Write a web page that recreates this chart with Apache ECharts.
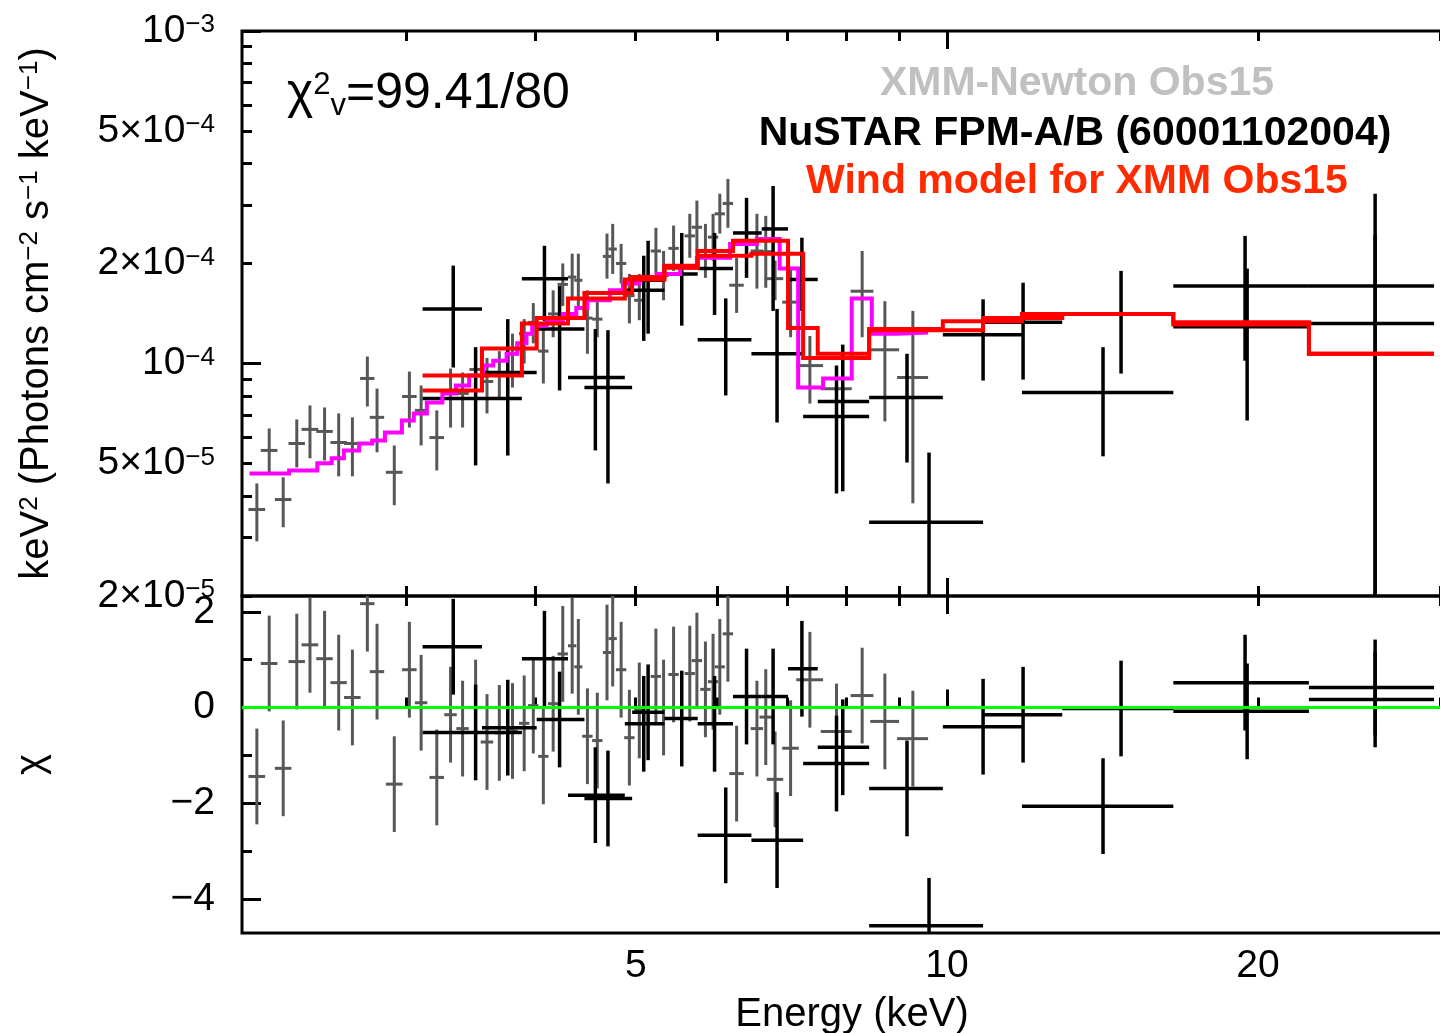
<!DOCTYPE html>
<html>
<head>
<meta charset="utf-8">
<title>XMM-Newton / NuSTAR spectrum</title>
<script src="https://cdn.jsdelivr.net/npm/echarts@6/dist/echarts.min.js"></script>
<style>
  html, body { margin: 0; padding: 0; background: #fff; }
  #chart { width: 1440px; height: 1033px; }
</style>
</head>
<body>
<div id="chart"></div>
<script>
// 字体 / 单位
const FONT = '"Liberation Sans", Arial, Helvetica, sans-serif';
const U = 1e-5; // flux arrays are in units of 1e-5

// 轴范围
const X_MIN = 2.08, X_MAX = 30.13;
const F_MIN = 2e-5, F_MAX = 1e-3;
const CHI_MIN = -4.71, CHI_MAX = 2.33;

// 刻度
const energyTicksMinor = [3, 4, 5, 6, 7, 8, 9, 20, 30];
const energyTicksMajor = [10];
const energyLabels = [5, 10, 20];
const fluxTicksMinor = [2e-5, 3e-5, 4e-5, 5e-5, 6e-5, 7e-5, 8e-5, 9e-5, 2e-4, 3e-4, 4e-4, 5e-4, 6e-4, 7e-4, 8e-4, 9e-4];
const fluxTicksMajor = [1e-4, 1e-3];
const fluxLabels = [2e-5, 5e-5, 1e-4, 2e-4, 5e-4, 1e-3];
const chiTicksMinor = [-3, -1, 1];
const chiTicksMajor = [-4, -2, 0, 2];
const chiLabels = [-4, -2, 0, 2];

// XMM-Newton Obs15 (grey)
const xmmE = [2.15, 2.21, 2.28, 2.35, 2.42, 2.50, 2.58, 2.66, 2.75, 2.81, 2.92, 3.02, 3.10, 3.21, 3.31, 3.40, 3.50, 3.59, 3.69, 3.80, 3.90, 3.98, 4.07, 4.16, 4.25, 4.34, 4.40, 4.49, 4.59, 4.69, 4.75, 4.84, 4.93, 5.04, 5.23, 5.32, 5.44, 5.64, 5.73, 5.84, 5.94, 6.03, 6.14, 6.26, 6.55, 6.68, 6.82, 7.06, 7.37, 7.82, 8.28, 8.71, 9.27];
const xmmDE = [0.040, 0.041, 0.042, 0.043, 0.045, 0.046, 0.047, 0.049, 0.044, 0.045, 0.054, 0.049, 0.043, 0.052, 0.046, 0.047, 0.048, 0.050, 0.042, 0.044, 0.045, 0.046, 0.047, 0.048, 0.049, 0.040, 0.040, 0.052, 0.053, 0.043, 0.044, 0.056, 0.057, 0.058, 0.060, 0.061, 0.063, 0.065, 0.066, 0.067, 0.068, 0.069, 0.071, 0.101, 0.090, 0.092, 0.125, 0.130, 0.220, 0.270, 0.210, 0.280, 0.320];
const xmmF = [3.64, 5.48, 3.90, 5.75, 6.34, 6.25, 5.79, 5.75, 9.02, 6.89, 4.71, 7.96, 7.23, 5.99, 8.2, 8.13, 9.6, 8.83, 9.40, 10.7, 12.3, 13.3, 10.9, 14.1, 17.3, 18.2, 17.8, 13.7, 13.6, 21.0, 22.1, 20.0, 16.0, 15.5, 21.8, 18.4, 22.2, 24.2, 25.7, 21.8, 24.0, 28.2, 30.3, 17.2, 21.8, 21.7, 18.0, 15.3, 9.86, 8.4, 16.5, 11.0, 9.08];
const xmmFlo = [2.92, 4.71, 3.22, 4.87, 5.19, 5.11, 4.58, 4.58, 7.43, 5.41, 3.75, 6.42, 5.67, 4.77, 6.42, 6.42, 8.2, 7.08, 7.91, 8.47, 10.0, 11.5, 8.71, 12.0, 14.9, 15.5, 14.7, 10.7, 12.0, 18.0, 18.6, 17.4, 13.2, 13.5, 18.6, 15.5, 19.0, 20.8, 21.4, 18.1, 20.4, 24.6, 25.6, 14.2, 16.8, 16.9, 15.5, 12.0, 7.58, 7.1, 12.0, 6.70, 3.80];
const xmmFhi = [4.36, 6.38, 4.55, 6.79, 7.48, 7.38, 7.08, 6.89, 10.5, 8.41, 5.67, 9.46, 8.59, 7.23, 9.66, 9.40, 11.0, 10.4, 10.9, 12.3, 13.6, 15.2, 13.3, 16.6, 20.0, 21.4, 21.4, 16.6, 15.5, 24.6, 26.3, 22.9, 18.6, 18.6, 25.6, 21.8, 26.0, 28.2, 30.9, 26.3, 28.2, 32.4, 35.9, 20.8, 28.2, 27.8, 20.4, 19.4, 12.1, 9.7, 21.8, 15.4, 14.4];
const xmmChi = [-1.44, 0.92, -1.27, 0.96, 1.31, 1.02, 0.52, 0.21, 2.17, 0.75, -1.6, 0.79, 0.1, -1.46, -0.15, -0.44, 0.0, -0.72, -0.53, -0.49, -0.33, 0.04, -1.02, 0.08, 1.12, 1.29, 0.85, -0.6, -0.69, 1.15, 1.44, 0.79, -0.63, -0.06, 0.65, 0.0, 0.69, 0.71, 0.98, 0.38, 0.54, 0.85, 1.54, -1.38, -0.44, -0.2, -1.5, -0.85, 0.58, -0.5, 0.25, -0.29, -0.65];

// NuSTAR FPM-A
const faE = [3.33, 3.76, 4.22, 4.70, 5.14, 5.54, 5.96, 6.40, 6.79, 7.24, 7.93, 9.15, 10.84, 14.16, 19.43, 25.96];
const faLo = [3.11, 3.55, 4.01, 4.46, 4.96, 5.33, 5.74, 6.21, 6.62, 7.02, 7.50, 8.41, 9.91, 11.82, 16.56, 22.4];
const faHi = [3.55, 4.01, 4.46, 4.96, 5.33, 5.74, 6.21, 6.62, 7.02, 7.50, 8.41, 9.91, 11.82, 16.56, 22.4, 29.6];
const faF = [14.6, 9.40, 12.7, 8.47, 17.8, 18.6, 19.3, 24.7, 25.4, 17.9, 7.69, 7.91, 12.2, 8.18, 17.1, 17.1];
const faFlo = [9.73, 5.29, 8.30, 4.36, 12.3, 13.0, 14.0, 18.1, 14.4, 14.4, 4.13, 5.04, 8.89, 5.26, 10.2, 1.5];
const faFhi = [19.7, 13.6, 17.1, 12.6, 23.4, 24.7, 24.7, 31.5, 34.2, 23.9, 11.4, 10.7, 15.6, 11.2, 24.2, 32.4];
const faChi = [1.27, -0.42, -0.25, -1.9, -0.1, -0.23, -0.34, 0.23, 0.23, 0.81, -0.83, -1.69, -0.4, -2.06, 0.52, 0.42];

// NuSTAR FPM-B
const fbE = [3.50, 4.08, 4.57, 5.09, 6.11, 6.85, 7.82, 9.61, 11.85, 14.74, 19.52, 25.96];
const fbLo = [3.11, 3.88, 4.30, 4.88, 5.74, 6.47, 7.26, 8.41, 10.84, 12.93, 16.56, 22.4];
const fbHi = [3.88, 4.30, 4.88, 5.33, 6.47, 7.26, 8.41, 10.84, 12.93, 16.56, 22.4, 29.6];
const fbF = [7.85, 18.0, 9.08, 16.6, 11.8, 10.7, 6.93, 3.33, 13.3, 14.1, 12.9, 13.2];
const fbFlo = [4.94, 13.4, 5.48, 11.7, 8.02, 6.65, 4.07, 1.3, 8.95, 9.33, 6.74, 2.0];
const fbFhi = [11.2, 22.6, 12.7, 21.1, 15.7, 14.6, 9.86, 5.40, 17.5, 19.0, 19.3, 24.4];
const fbChi = [-0.52, 1.02, -1.83, -0.34, -2.67, -2.77, -1.17, -4.56, -0.15, -0.02, -0.08, 0.17];

// 模型 (bin edges + values)
const magEdges = [2.115, 2.31, 2.46, 2.54, 2.61, 2.70, 2.78, 2.86, 2.97, 3.05, 3.14, 3.25, 3.35, 3.45, 3.56, 3.64, 3.75, 3.84, 3.92, 3.97, 4.10, 4.25, 4.38, 4.49, 4.72, 4.86, 5.04, 5.24, 5.52, 5.73, 6.17, 6.55, 6.89, 7.18, 7.59, 8.09, 8.46, 8.97, 9.59];
const magVals = [4.67, 4.77, 5.01, 5.19, 5.48, 5.75, 5.87, 6.20, 6.74, 7.08, 7.64, 8.13, 8.59, 9.20, 9.86, 10.2, 10.7, 11.5, 12.3, 13.0, 13.5, 14.1, 14.7, 15.5, 16.6, 17.4, 18.1, 18.6, 19.4, 20.8, 22.9, 23.7, 19.3, 8.47, 9.02, 15.7, 12.3, 12.4];
const redAEdges = [3.11, 3.55, 4.01, 4.46, 4.96, 5.33, 5.74, 6.21, 6.62, 7.02, 7.50, 8.41, 9.91, 11.82, 16.56, 22.4, 29.6];
const redAVals = [8.30, 11.1, 13.7, 16.3, 18.2, 19.7, 21.8, 23.4, 23.4, 12.8, 10.7, 12.7, 13.4, 14.1, 13.3, 10.7];
const redBEdges = [3.11, 3.88, 4.30, 4.88, 5.33, 5.74, 6.47, 7.26, 8.41, 10.84, 12.93, 16.56, 22.4, 29.6];
const redBVals = [9.20, 13.2, 15.7, 17.9, 19.4, 21.1, 21.4, 10.4, 12.6, 13.7, 14.1, 13.1, 10.7];

// 颜色
const GREY = '#575757';

// keep end values just inside the axis range
const inside = (v, lo, hi) => v <= lo ? v * (1 + 1e-9) : v >= hi ? v * (1 - 1e-9) : v;
const fluxIn = arr => arr.map(v => inside(v, F_MIN, F_MAX));

const tickLine = { color: '#000', width: 3 };
const labelBase = { color: '#000', fontFamily: FONT, fontSize: 39 };

function powLabel(v) {
  const e = Math.floor(Math.log10(v) + 1e-6);
  const m = Math.round(v / Math.pow(10, e));
  const base = m === 1 ? '10' : m + '×10';
  return '{b|' + base + '}{s|−' + (-e) + '}';
}

function xAxisFor(grid, pos, ticks, len, withLabels) {
  const ax = {
    type: 'log', logBase: 10, gridIndex: grid, position: pos,
    min: X_MIN, max: X_MAX,
    axisLine: { show: false },
    splitLine: { show: false },
    axisTick: { show: true, inside: true, length: len, customValues: ticks, lineStyle: tickLine },
    axisLabel: { show: false }
  };
  if (withLabels) {
    ax.axisLabel = Object.assign({
      show: true, customValues: energyLabels, margin: 14,
      formatter: v => String(Math.round(v))
    }, labelBase);
    ax.name = 'Energy (keV)';
    ax.nameLocation = 'middle';
    ax.nameGap = 62;
    ax.nameMoveOverlap = false;
    ax.nameTextStyle = { color: '#000', fontFamily: FONT, fontSize: 40, padding: [0, 0, 0, 20] };
  }
  return ax;
}

function fluxAxis(ticks, len, withLabels) {
  const ax = {
    type: 'log', logBase: 10, gridIndex: 0, position: 'left',
    min: F_MIN, max: F_MAX,
    axisLine: { show: false },
    splitLine: { show: false },
    axisTick: { show: true, inside: true, length: len, customValues: fluxIn(ticks), lineStyle: tickLine },
    axisLabel: { show: false }
  };
  if (withLabels) {
    ax.axisLabel = Object.assign({
      show: true, customValues: fluxIn(fluxLabels), margin: 27,
      formatter: powLabel,
      rich: {
        b: { fontFamily: FONT, fontSize: 39, color: '#000' },
        s: { fontFamily: FONT, fontSize: 26, color: '#000', padding: [0, 0, 12, 0] }
      }
    }, labelBase);
    ax.name = '{a|keV}{s|2}{a| (Photons cm}{s|−2}{a| s}{s|−1}{a| keV}{s|−1}{a|)}';
    ax.nameLocation = 'middle';
    ax.nameRotate = 90;
    ax.nameGap = 185;
    ax.nameMoveOverlap = false;
    ax.nameTextStyle = {
      color: '#000', fontFamily: FONT, fontSize: 40,
      rich: {
        a: { fontFamily: FONT, fontSize: 40, color: '#000' },
        s: { fontFamily: FONT, fontSize: 26, color: '#000', padding: [0, 0, 14, 0] }
      }
    };
  }
  return ax;
}

function chiAxis(ticks, len, withLabels) {
  const ax = {
    type: 'value', gridIndex: 1, position: 'left',
    min: CHI_MIN, max: CHI_MAX,
    axisLine: { show: false },
    splitLine: { show: false },
    axisTick: { show: true, inside: true, length: len, customValues: ticks, lineStyle: tickLine },
    axisLabel: { show: false }
  };
  if (withLabels) {
    ax.axisLabel = Object.assign({
      show: true, customValues: chiLabels, margin: 27,
      formatter: v => (v < 0 ? '−' + Math.abs(v) : String(v))
    }, labelBase);
    ax.name = 'χ';
    ax.nameLocation = 'middle';
    ax.nameRotate = 90;
    ax.nameGap = 190;
    ax.nameMoveOverlap = false;
    ax.nameTextStyle = { color: '#000', fontFamily: FONT, fontSize: 40 };
  }
  return ax;
}

// 误差棒: [E, Elo, Ehi, y, ylo, yhi]
function crossSeries(name, data, xi, yi, color, width) {
  return {
    name, type: 'custom', xAxisIndex: xi, yAxisIndex: yi,
    silent: true, animation: false,
    encode: { x: 0, y: 3 },
    renderItem: function (params, api) {
      const cs = params.coordSys;
      const top = cs.y, bottom = cs.y + cs.height, left = cs.x, right = cs.x + cs.width;
      const clampY = v => Math.max(top, Math.min(bottom, v));
      const clampX = v => Math.max(left, Math.min(right, v));
      const c = api.coord([api.value(0), api.value(3)]);
      const l = api.coord([api.value(1), api.value(3)]);
      const r = api.coord([api.value(2), api.value(3)]);
      const b = api.coord([api.value(0), api.value(4)]);
      const t = api.coord([api.value(0), api.value(5)]);
      const style = { stroke: color, lineWidth: width };
      const children = [];
      if (c[1] >= top && c[1] <= bottom) {
        children.push({ type: 'line', shape: { x1: clampX(l[0]), y1: c[1], x2: clampX(r[0]), y2: c[1] }, style });
      }
      children.push({ type: 'line', shape: { x1: c[0], y1: clampY(b[1]), x2: c[0], y2: clampY(t[1]) }, style });
      return { type: 'group', children };
    },
    data
  };
}

function stepSeries(name, edges, vals, color) {
  const pts = vals.map((v, i) => [edges[i], v * U]);
  pts.push([edges[edges.length - 1], vals[vals.length - 1] * U]);
  return {
    name, type: 'line', xAxisIndex: 0, yAxisIndex: 0,
    step: 'end', data: pts, symbol: 'none', showSymbol: false,
    lineStyle: { color, width: 4, join: 'miter' }, silent: true, animation: false
  };
}

const topXmm = xmmE.map((e, i) => [e, e - xmmDE[i], e + xmmDE[i], xmmF[i] * U, xmmFlo[i] * U, xmmFhi[i] * U]);
const resXmm = xmmE.map((e, i) => [e, e - xmmDE[i], e + xmmDE[i], xmmChi[i], xmmChi[i] - 1, xmmChi[i] + 1]);
const topFa = faE.map((e, i) => [e, faLo[i], faHi[i], faF[i] * U, faFlo[i] * U, faFhi[i] * U]);
const resFa = faE.map((e, i) => [e, faLo[i], faHi[i], faChi[i], faChi[i] - 1, faChi[i] + 1]);
const topFb = fbE.map((e, i) => [e, fbLo[i], fbHi[i], fbF[i] * U, fbFlo[i] * U, fbFhi[i] * U]);
const resFb = fbE.map((e, i) => [e, fbLo[i], fbHi[i], fbChi[i], fbChi[i] - 1, fbChi[i] + 1]);

const chart = echarts.init(document.getElementById('chart'));

const gridStyle = { show: true, borderColor: '#000', borderWidth: 3, backgroundColor: 'transparent', containLabel: false, outerBoundsMode: 'none' };

const option = {
  animation: false,
  backgroundColor: '#fff',
  grid: [
    Object.assign({ left: 242, top: 31, width: 1200, height: 565 }, gridStyle),
    Object.assign({ left: 242, top: 596, width: 1200, height: 337 }, gridStyle)
  ],
  xAxis: [
    xAxisFor(0, 'bottom', energyTicksMinor, 10, false),
    xAxisFor(0, 'bottom', energyTicksMajor, 18, false),
    xAxisFor(0, 'top', energyTicksMinor, 10, false),
    xAxisFor(0, 'top', energyTicksMajor, 18, false),
    xAxisFor(1, 'bottom', energyTicksMinor, 10, false),
    xAxisFor(1, 'bottom', energyTicksMajor, 18, true),
    xAxisFor(1, 'top', energyTicksMinor, 10, false),
    xAxisFor(1, 'top', energyTicksMajor, 18, false)
  ],
  yAxis: [
    fluxAxis(fluxTicksMinor, 10, false),
    fluxAxis(fluxTicksMajor, 19, true),
    chiAxis(chiTicksMinor, 10, false),
    chiAxis(chiTicksMajor, 19, true)
  ],
  graphic: [
    {
      type: 'text', x: 287, y: 94, silent: true,
      style: {
        text: '{c|χ}{p|2}{v|v}{t|=99.41/80}',
        align: 'left', verticalAlign: 'middle', fill: '#000',
        rich: {
          c: { fontFamily: FONT, fontSize: 50, fill: '#000' },
          p: { fontFamily: FONT, fontSize: 31, fill: '#000', padding: [0, 0, 17, 0] },
          v: { fontFamily: FONT, fontSize: 31, fill: '#000', padding: [24, 0, 0, 0] },
          t: { fontFamily: FONT, fontSize: 50, fill: '#000' }
        }
      }
    },
    {
      type: 'text', x: 1077, y: 84, silent: true,
      style: { text: 'XMM-Newton Obs15', fill: '#c0c0c0', fontFamily: FONT, fontWeight: 'bold', fontSize: 41, align: 'center', verticalAlign: 'middle' }
    },
    {
      type: 'text', x: 1075, y: 134, silent: true,
      style: { text: 'NuSTAR FPM-A/B (60001102004)', fill: '#000', fontFamily: FONT, fontWeight: 'bold', fontSize: 41, align: 'center', verticalAlign: 'middle' }
    },
    {
      type: 'text', x: 1077, y: 182, silent: true,
      style: { text: 'Wind model for XMM Obs15', fill: '#ff2a00', fontFamily: FONT, fontWeight: 'bold', fontSize: 41, align: 'center', verticalAlign: 'middle' }
    }
  ],
  series: [
    crossSeries('XMM Obs15', topXmm, 0, 0, GREY, 3),
    crossSeries('FPM-A', topFa, 0, 0, '#000', 3.5),
    crossSeries('FPM-B', topFb, 0, 0, '#000', 3.5),
    stepSeries('XMM model', magEdges, magVals, '#ff00ff'),
    stepSeries('Wind model B', redBEdges, redBVals, '#ff0000'),
    stepSeries('Wind model A', redAEdges, redAVals, '#ff0000'),
    crossSeries('XMM resid', resXmm, 4, 2, GREY, 3),
    crossSeries('FPM-A resid', resFa, 4, 2, '#000', 3.5),
    crossSeries('FPM-B resid', resFb, 4, 2, '#000', 3.5),
    {
      name: 'zero', type: 'line', xAxisIndex: 4, yAxisIndex: 2, data: [],
      silent: true, animation: false,
      markLine: {
        silent: true, animation: false, symbol: ['none', 'none'],
        label: { show: false },
        lineStyle: { color: '#00ff00', width: 3, type: 'solid' },
        data: [{ yAxis: 0 }]
      }
    }
  ]
};

chart.setOption(option);
window.addEventListener('resize', () => chart.resize());
</script>
</body>
</html>
